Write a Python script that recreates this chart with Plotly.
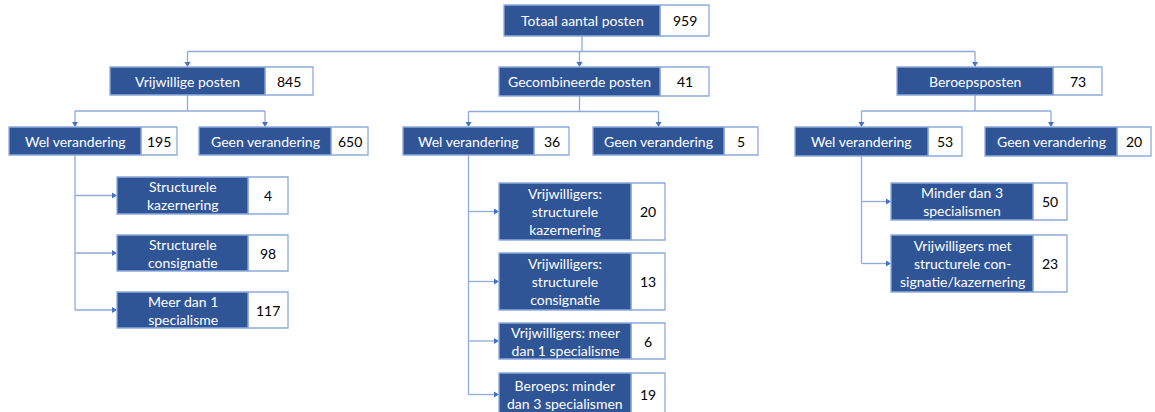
import plotly.graph_objects as go

# ---- data ----
labels = [
    "Totaal aantal posten",
    "Vrijwillige posten", "Gecombineerde posten", "Beroepsposten",
    "Wel verandering", "Geen verandering",
    "Structurele<br>kazernering", "Structurele<br>consignatie", "Meer dan 1<br>specialisme",
    "Wel verandering", "Geen verandering",
    "Vrijwilligers:<br>structurele<br>kazernering", "Vrijwilligers:<br>structurele<br>consignatie",
    "Vrijwilligers: meer<br>dan 1 specialisme", "Beroeps: minder<br>dan 3 specialismen",
    "Wel verandering", "Geen verandering",
    "Minder dan 3<br>specialismen", "Vrijwilligers met<br>structurele con-<br>signatie/kazernering",
]
values = [959, 845, 41, 73, 195, 650, 4, 98, 117, 36, 5, 20, 13, 6, 19, 53, 20, 50, 23]
parents = [None, 0, 0, 0, 1, 1, 4, 4, 4, 2, 2, 9, 9, 9, 9, 3, 3, 15, 15]

# ---- layout geometry (pixels): x0, x_split, x1, y0, y1 ----
geom = [
    (504, 660, 709, 5, 36),
    (110, 265, 313, 67, 95),
    (499, 660, 709, 67, 96),
    (897, 1053, 1102, 67, 95),
    (9, 141, 177, 127, 155),
    (199, 331, 368, 127, 155),
    (117, 248, 288, 177, 214),
    (117, 248, 288, 235, 271),
    (117, 248, 288, 292, 328),
    (403, 534, 569, 127, 155),
    (593, 724, 758, 127, 155),
    (499, 631, 665, 183, 240),
    (499, 631, 665, 253, 310),
    (499, 631, 665, 323, 359),
    (499, 631, 665, 373, 416),
    (795, 928, 962, 127, 156),
    (985, 1117, 1151, 127, 156),
    (891, 1033, 1067, 183, 220),
    (891, 1033, 1067, 235, 292),
]
side_children = {4, 9, 15}  # parents whose children hang off a vertical trunk

BLUE = "#2F5597"
BORDER = "#8FAADC"
LINE = "#8FAADC"
ARROW = "#4472C4"
FONT = "Lato"

shapes = []
annotations = []


def line(x0, y0, x1, y1):
    shapes.append(dict(type="line", x0=x0, y0=y0, x1=x1, y1=y1,
                       line=dict(color=LINE, width=1.3), layer="below"))


def tri_down(cx, y):
    shapes.append(dict(type="path", path=f"M {cx-3} {y-5} L {cx+3} {y-5} L {cx} {y} Z",
                       fillcolor=ARROW, line=dict(width=0)))


def tri_right(x, cy):
    shapes.append(dict(type="path", path=f"M {x-5} {cy-3} L {x-5} {cy+3} L {x} {cy} Z",
                       fillcolor=ARROW, line=dict(width=0)))


def bcenter(i):
    g = geom[i]
    return (g[0] + g[1]) / 2


# connectors
for p in range(len(labels)):
    kids = [k for k in range(len(labels)) if parents[k] == p]
    if not kids:
        continue
    px = bcenter(p)
    pb = geom[p][4]
    if p in side_children:
        last_cy = max((geom[k][3] + geom[k][4]) / 2 for k in kids)
        line(px, pb, px, last_cy)
        for k in kids:
            cy = (geom[k][3] + geom[k][4]) / 2
            line(px, cy, geom[k][0] - 5, cy)
            tri_right(geom[k][0], cy)
    else:
        top = min(geom[k][3] for k in kids)
        bus = pb + (top - pb) / 2
        xs = [bcenter(k) for k in kids]
        line(px, pb, px, bus)
        line(min(xs), bus, max(xs), bus)
        for k in kids:
            cx = bcenter(k)
            line(cx, bus, cx, geom[k][3] - 5)
            tri_down(cx, geom[k][3])

# boxes
for i, (lab, val) in enumerate(zip(labels, values)):
    x0, xs, x1, y0, y1 = geom[i]
    shapes.append(dict(type="rect", x0=xs, x1=x1, y0=y0, y1=y1, fillcolor="white",
                       line=dict(color=BORDER, width=1.3)))
    shapes.append(dict(type="rect", x0=x0, x1=xs, y0=y0, y1=y1, fillcolor=BLUE,
                       line=dict(color=BORDER, width=1.3)))
    cy = (y0 + y1) / 2
    annotations.append(dict(x=(x0 + xs) / 2, y=cy, text=lab, showarrow=False,
                            font=dict(family=FONT, size=14, color="white"),
                            xanchor="center", yanchor="middle", align="center"))
    annotations.append(dict(x=(xs + x1) / 2, y=cy, text=str(val), showarrow=False,
                            font=dict(family=FONT, size=14, color="black"),
                            xanchor="center", yanchor="middle"))

fig = go.Figure()
fig.update_layout(
    width=1155, height=412,
    margin=dict(l=0, r=0, t=0, b=0),
    paper_bgcolor="white", plot_bgcolor="white",
    xaxis=dict(range=[0, 1155], visible=False, fixedrange=True),
    yaxis=dict(range=[412, 0], visible=False, fixedrange=True),
    shapes=shapes, annotations=annotations, showlegend=False,
)
fig.write_html("out.html", config={"displayModeBar": False},
               post_script="document.body.style.margin='0';document.body.style.overflow='hidden';")
